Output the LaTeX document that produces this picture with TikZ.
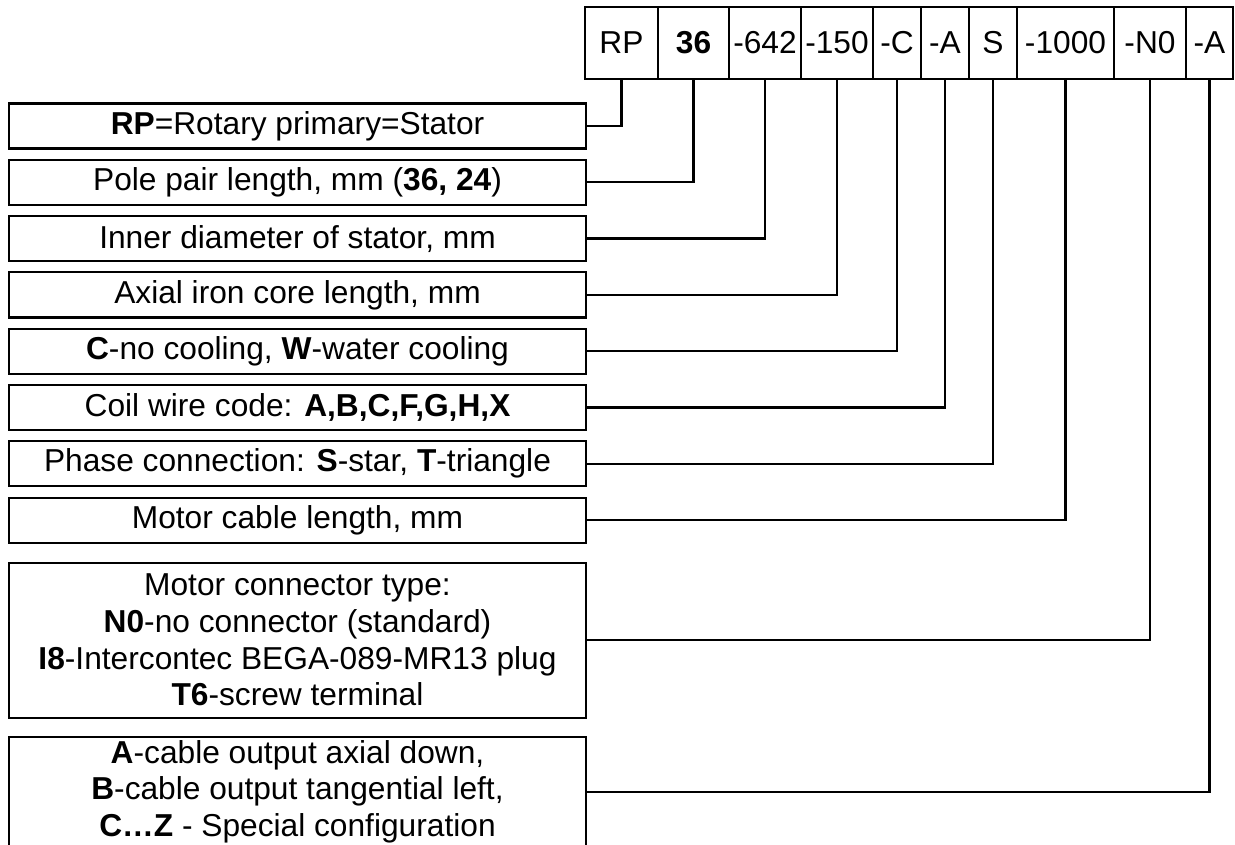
\documentclass[tikz,border=0pt]{standalone}
\usepackage{fontspec}
\setmainfont{Liberation Sans}
\usepackage{tikz}
\usetikzlibrary{positioning}

\begin{document}
\begin{tikzpicture}[x=1pt, y=-1pt]
	\tikzset{
		codebox/.style={draw, line width=2.2pt, minimum height=72pt, inner sep=0pt, outer sep=0pt, font=\fontsize{31.7}{36}\selectfont},
		descbox/.style={draw, line width=2.2pt, minimum width=577pt, minimum height=45pt, inner sep=0pt, outer sep=0pt, align=center, font=\fontsize{31.7}{36.6}\selectfont},
		link/.style={line width=2.2pt},
	}
	\useasboundingbox (0,0) rectangle (1235,845);
	
	% Code boxes
	\node[codebox, minimum width=73pt] (cRP) at (621.5,43) {RP};
	\node[codebox, minimum width=71pt, right=0pt of cRP] (cPole) {\textbf{36}};
	\node[codebox, minimum width=72pt, right=0pt of cPole] (cDiam) {-642};
	\node[codebox, minimum width=72pt, right=0pt of cDiam] (cLen) {-150};
	\node[codebox, minimum width=48pt, right=0pt of cLen] (cCool) {-C};
	\node[codebox, minimum width=48pt, right=0pt of cCool] (cWire) {-A};
	\node[codebox, minimum width=48pt, right=0pt of cWire] (cPhase) {S};
	\node[codebox, minimum width=97pt, right=0pt of cPhase] (cCable) {-1000};
	\node[codebox, minimum width=72pt, right=0pt of cCable] (cConn) {-N0};
	\node[codebox, minimum width=47pt, right=0pt of cConn] (cOut) {-A};
	
	% Description boxes
	\node[descbox] (dRP) at (297.5,126) {\textbf{RP}=Rotary primary=Stator};
	\node[descbox, below=11.3pt of dRP] (dPole) {Pole pair length, mm (\textbf{36, 24})};
	\node[descbox, below=11.3pt of dPole] (dDiam) {Inner diameter of stator, mm};
	\node[descbox, below=11.3pt of dDiam] (dLen) {Axial iron core length, mm};
	\node[descbox, below=11.3pt of dLen] (dCool) {\textbf{C}-no cooling, \textbf{W}-water cooling};
	\node[descbox, below=11.3pt of dCool] (dWire) {Coil wire code: \textbf{A,B,C,F,G,H,X}};
	\node[descbox, below=11.3pt of dWire] (dPhase) {Phase connection: \textbf{S}-star, \textbf{T}-triangle};
	\node[descbox, below=11.3pt of dPhase] (dCable) {Motor cable length, mm};
	\node[descbox, minimum height=155pt, below=20pt of dCable] (dConn) {Motor connector type:\\\textbf{N0}-no connector (standard)\\\textbf{I8}-Intercontec BEGA-089-MR13 plug\\\textbf{T6}-screw terminal};
	\node[descbox, minimum height=110pt, below=19pt of dConn] (dOut) {\textbf{A}-cable output axial down,\\\textbf{B}-cable output tangential left,\\\textbf{C…Z} - Special configuration};
	
	% Connectors
	\foreach \d/\c in {dRP/cRP, dPole/cPole, dDiam/cDiam, dLen/cLen, dCool/cCool, dWire/cWire, dPhase/cPhase, dCable/cCable, dConn/cConn, dOut/cOut} {
		\draw[link] (\d.east) -| (\c.south);
	}
\end{tikzpicture}
\end{document}
